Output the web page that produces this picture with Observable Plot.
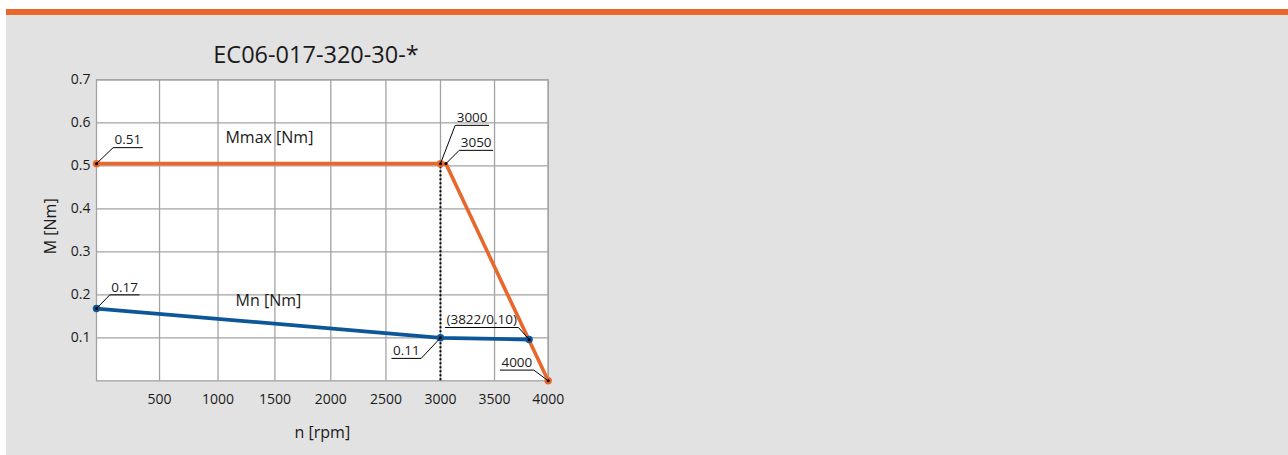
<!DOCTYPE html>
<html><head><meta charset="utf-8">
<script src="https://cdn.jsdelivr.net/npm/d3@7"></script>
<script src="https://cdn.jsdelivr.net/npm/@observablehq/plot@0.6"></script>
<style>
html,body{margin:0;padding:0;background:#fff;width:1288px;height:455px;overflow:hidden;font-family:"Open Sans",sans-serif;}
#panel{position:absolute;left:6px;top:9px;width:1282px;height:440px;background:#e2e2e2;border-top:6px solid #e8682b;}
#title{position:absolute;left:0;top:43px;width:632px;text-align:center;font-size:23.5px;line-height:1;color:#1a1a1a;}
#chart{position:absolute;left:0;top:70px;}
</style></head><body>
<div id="panel"></div>
<div id="title"></div>
<div id="chart"></div>
<script>
// ---- data ----
const chartTitle = "EC06-017-320-30-*";
const mmaxSpeed = [0, 3000, 3050, 4000];
const mmaxTorque = [0.505, 0.505, 0.505, 0];
const mnSpeed = [0, 3000, 3822];
const mnTorque = [0.168, 0.100, 0.096];
const xTicks = [500, 1000, 1500, 2000, 2500, 3000, 3500, 4000];
const yTicks = [0.1, 0.2, 0.3, 0.4, 0.5, 0.6, 0.7];
const xLabel = "n [rpm]";
const yLabel = "M [Nm]";
const seriesNames = ["Mmax [Nm]", "Mn [Nm]"];
const annText = ["0.51", "3000", "3050", "4000", "0.17", "0.11", "(3822/0.10)"];
const annSeries = ["mmax", "mmax", "mmax", "mmax", "mn", "mn", "mn"];
const annIndex = [0, 1, 2, 3, 0, 1, 2];

// ---- styling / placement ----
const ORANGE = "#e8682b", BLUE = "#0d5799", GRID = "#a3a3a3", INK = "#1a1a1a";
const annFont = 13.5;
const annPlace = [ // leader end offset (px) and side of the label
  [16.6, -16, 1], [14.7, -38.3, 1], [13.3, -13.3, 1], [-14.4, -10.7, -1],
  [13.3, -13.7, 1], [-19.3, 20.6, -1], [-10.7, -12, -1]
];

document.getElementById("title").textContent = chartTitle;

const ctx = document.createElement("canvas").getContext("2d");
ctx.font = `${annFont}px "Open Sans"`;

const mmax = mmaxSpeed.map((n, i) => ({n, m: mmaxTorque[i]}));
const mn = mnSpeed.map((n, i) => ({n, m: mnTorque[i]}));
const ann = annText.map((t, i) => {
  const s = annSeries[i] === "mmax" ? mmax : mn;
  return {...s[annIndex[i]], text: t};
});

function leader(lx, ly, len) {
  return {draw(c) { c.moveTo(0, 0); c.lineTo(lx, ly); c.lineTo(lx + len, ly); }};
}

const annMarks = ann.flatMap((a, i) => {
  const [lx, ly, side] = annPlace[i];
  const w = ctx.measureText(a.text).width + 3;
  return [
    Plot.dot([a], {x: "n", y: "m", symbol: leader(lx, ly, side * w), r: 4, fill: "none", stroke: "black", strokeWidth: 1}),
    Plot.text([a], {x: "n", y: "m", text: "text", dx: lx + side * 1.5, dy: ly - 3.3,
      textAnchor: side > 0 ? "start" : "end", lineAnchor: "bottom", fontSize: annFont, fill: INK})
  ];
});

const W = 640, H = 385;
const plot = Plot.plot({
  width: W, height: H,
  marginLeft: 96, marginRight: W - 547.7, marginTop: 9.3, marginBottom: 74.7,
  style: {background: "transparent", overflow: "visible", fontFamily: "'Open Sans', sans-serif", fontSize: "14px", color: INK},
  x: {type: "pow", exponent: 0.947, domain: [0, 4000], ticks: xTicks, tickFormat: d3.format("d"), tickSize: 0, tickPadding: 13, label: null},
  y: {domain: [0, 0.7], ticks: yTicks, tickFormat: d3.format(".1f"), tickSize: 0, tickPadding: 6, label: null},
  marks: [
    Plot.frame({fill: "white", stroke: null}),
    Plot.ruleX(xTicks, {stroke: GRID, strokeWidth: 1.3}),
    Plot.ruleY(yTicks, {stroke: GRID, strokeWidth: 1.3}),
    Plot.frame({stroke: GRID, strokeWidth: 1.3}),
    Plot.ruleX([mmax[1]], {x: "n", y1: 0, y2: "m", stroke: "black", strokeWidth: 2, strokeDasharray: "2 2"}),
    Plot.line(mn, {x: "n", y: "m", stroke: BLUE, strokeWidth: 3.8}),
    Plot.line(mmax, {x: "n", y: "m", stroke: ORANGE, strokeWidth: 3.6}),
    Plot.dot(mn, {x: "n", y: "m", r: 3.7, fill: BLUE}),
    Plot.dot(mmax.filter((d, i) => i !== 2), {x: "n", y: "m", r: 3.7, fill: ORANGE}),
    Plot.dot([...mmax, ...mn], {x: "n", y: "m", r: 1.5, fill: "black"}),
    ...annMarks,
    Plot.text([{n: (mmaxSpeed[0] + mmaxSpeed[1]) / 2, m: mmaxTorque[0]}], {x: "n", y: "m", text: () => seriesNames[0], dx: -5.5, dy: -25.6, fontSize: 16, fill: INK}),
    Plot.text([{n: (mnSpeed[0] + mnSpeed[1]) / 2, m: mnTorque[0]}], {x: "n", y: "m", text: () => seriesNames[1], dx: -6.5, dy: -7.5, fontSize: 16, fill: INK}),
    Plot.text([yLabel], {frameAnchor: "left", textAnchor: "middle", lineAnchor: "middle", dx: -46, dy: -4, rotate: -90, text: d => d, fontSize: 16, fill: INK}),
    Plot.text([xLabel], {frameAnchor: "bottom", textAnchor: "middle", lineAnchor: "bottom", dy: 57, text: d => d, fontSize: 16, fill: INK})
  ]
});
document.getElementById("chart").appendChild(plot);
</script>
</body></html>
